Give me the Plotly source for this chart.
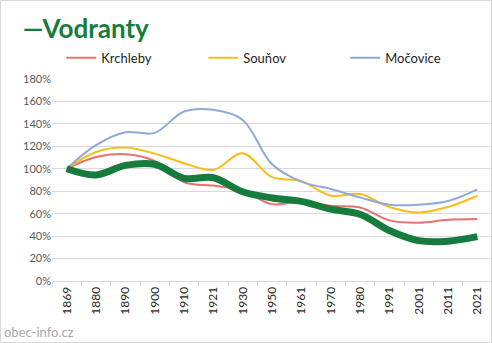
import plotly.graph_objects as go

# Census years (category axis)
years = ["1869", "1880", "1890", "1900", "1910", "1921", "1930", "1950",
         "1961", "1970", "1980", "1991", "2001", "2011", "2021"]

# Population relative to 1869, in percent
vodranty = [100, 94.5, 103, 104, 91.5, 92, 79.5, 74, 71, 64, 59.5, 45, 36, 35.5, 39.5]
krchleby = [100, 110.5, 113, 107, 88, 85, 80.5, 68.5, 71, 67, 65.5, 54, 52, 54.5, 55.3]
sounov = [100, 115, 119, 113.5, 105, 99, 113.8, 92.5, 89, 76, 77.5, 66, 61, 66, 76]
mocovice = [100, 121, 132.5, 132, 151, 152.5, 143.5, 104, 88.5, 82, 74.5, 68, 68, 71.3, 81.7]

y_ticks = [0, 20, 40, 60, 80, 100, 120, 140, 160, 180]
y_labels = [f"{v}%" for v in y_ticks]

FONT = "Lato"
GREEN = "#167C3D"

fig = go.Figure()

for name, values, color in [
    ("Krchleby", krchleby, "#EB7171"),
    ("Souňov", sounov, "#F7BE1B"),
    ("Močovice", mocovice, "#90A9D8"),
]:
    fig.add_trace(go.Scatter(
        x=years, y=values, name=name, mode="lines",
        line=dict(color=color, width=2, shape="spline", smoothing=1),
    ))

fig.add_trace(go.Scatter(
    x=years, y=vodranty, name="Vodranty", mode="lines", showlegend=False,
    line=dict(color=GREEN, width=7, shape="spline", smoothing=1),
))

fig.update_layout(
    width=492, height=343,
    margin=dict(l=52, r=0, t=79, b=62),
    paper_bgcolor="white", plot_bgcolor="white",
    font=dict(family=FONT, color="#404040"),
    title=dict(
        text="<b>—Vodranty</b>",
        font=dict(family=FONT, size=26, color=GREEN),
        xref="container", yref="container",
        x=0.046, xanchor="left", y=0.915, yanchor="middle",
    ),
    legend=dict(
        orientation="h", x=0.021, xanchor="left", y=1.105, yanchor="middle",
        entrywidth=97, entrywidthmode="pixels",
        font=dict(family=FONT, size=13, color="#262626"),
        bgcolor="rgba(0,0,0,0)",
    ),
    xaxis=dict(
        type="category", range=[-0.5, len(years) - 0.5],
        tickangle=-90, tickson="boundaries",
        ticks="outside", ticklen=5, tickcolor="#D9D9D9",
        showline=True, linecolor="#D9D9D9", linewidth=1,
        showgrid=False, zeroline=False,
        tickfont=dict(family=FONT, size=12, color="#262626"),
        fixedrange=True,
    ),
    yaxis=dict(
        range=[0, 180], tickmode="array", tickvals=y_ticks, ticktext=y_labels,
        showgrid=True, gridcolor="#D9D9D9", gridwidth=1,
        zeroline=False, showline=False,
        tickfont=dict(family=FONT, size=11, color="#595959"),
        fixedrange=True,
    ),
    showlegend=True,
)

# Chart border
fig.add_shape(
    type="rect", xref="paper", yref="paper",
    x0=-51.5 / 440, x1=439.5 / 440, y0=-61.5 / 202, y1=280.5 / 202,
    line=dict(color="#D9D9D9", width=1), fillcolor="rgba(0,0,0,0)",
    layer="below",
)

# Source note
fig.add_annotation(
    text="obec-info.cz", xref="paper", yref="paper",
    x=-50 / 440, y=-51 / 202, xanchor="left", yanchor="middle",
    showarrow=False, font=dict(family=FONT, size=13, color="#A6A6A6"),
)

fig.write_html("out.html")
